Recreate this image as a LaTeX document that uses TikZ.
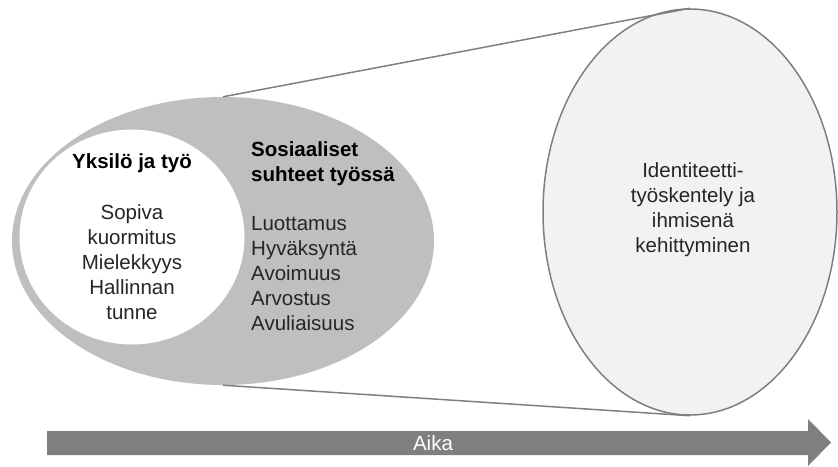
\documentclass[tikz,border=0pt]{standalone}
\usepackage{fontspec}
\setmainfont{Liberation Sans}
\usetikzlibrary{shapes.geometric}

\definecolor{midgray}{HTML}{BFBFBF}
\definecolor{lightgray}{HTML}{F2F2F2}
\definecolor{edgegray}{HTML}{7F7F7F}
\definecolor{textgray}{HTML}{262626}

\tikzset{
    blob/.style={ellipse, inner sep=0pt},
    rim/.style={edgegray, line width=1.5pt},
    txt/.style={font=\fontsize{20.5}{25}\selectfont, text=textgray, inner sep=0pt},
    head/.style={txt, font=\fontsize{20.5}{25}\selectfont\bfseries, text=black}
}

\begin{document}
\begin{tikzpicture}[x=1pt, y=-1pt]
    \useasboundingbox (0,0) rectangle (838,466);

    \node[blob, fill=midgray, minimum width=422, minimum height=288] (social) at (223,241) {};
    \node[blob, fill=white, minimum width=225, minimum height=215] (self) at (132,237) {};
    \node[blob, draw, rim, fill=lightgray, minimum width=294, minimum height=406] (growth) at (690,212) {};

    \draw[rim] (social.north) -- (growth.north);
    \draw[rim] (social.south) -- (growth.south);

    \node[head, anchor=center] (selfhead) at (132,163) {Yksilö ja työ};
    \node[txt, align=center, anchor=north] (selflist) at (132,204) {Sopiva\\kuormitus\\Mielekkyys\\Hallinnan\\tunne};

    \node[head, align=left, anchor=north west] (socialhead) at (251,141) {Sosiaaliset\\suhteet työssä};
    \node[txt, align=left, anchor=north west] (sociallist) at (251,216) {Luottamus\\Hyväksyntä\\Avoimuus\\Arvostus\\Avuliaisuus};

    \node[txt, align=center, anchor=north] (growthtext) at (693,162) {Identiteetti-\\työskentely ja\\ihmisenä\\kehittyminen};

    \fill[edgegray] (47,431) -- (808,431) -- (808,419) -- (831,442.5) -- (808,466) -- (808,455) -- (47,455) -- cycle;
    \node[txt, text=white, anchor=center] (time) at (433,443) {Aika};
\end{tikzpicture}
\end{document}
